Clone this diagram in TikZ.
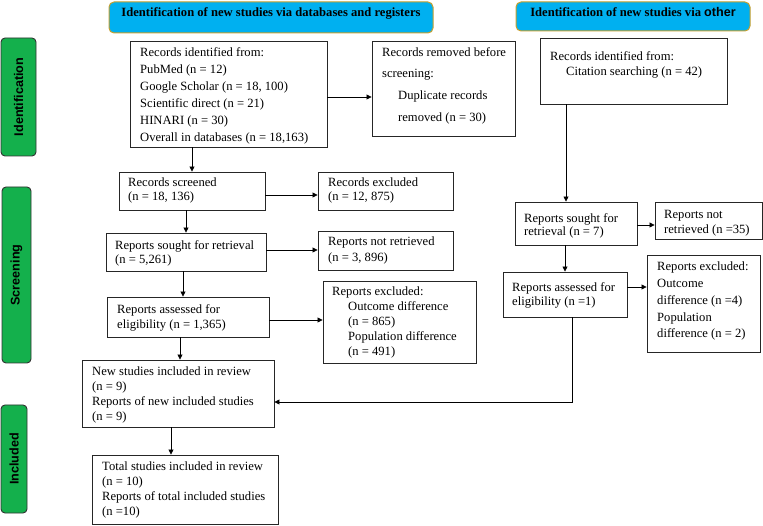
\documentclass[tikz,border=0pt]{standalone}
\usepackage{fontspec}
\setmainfont{Liberation Serif}
\newfontfamily\arialfam{Liberation Sans}
\usetikzlibrary{arrows.meta,fit,calc}
\definecolor{hdrfill}{HTML}{00B0F0}
\definecolor{hdrline}{HTML}{C9A02C}
\definecolor{sidefill}{HTML}{14B04C}
\begin{document}
\begin{tikzpicture}[x=1pt,y=-1pt,
  box/.style={draw=black!85, line width=0.9pt, inner sep=0pt},
  txt/.style={anchor=north west, inner sep=0pt, align=left},
  hdr/.style={draw=hdrline, fill=hdrfill, rounded corners=5pt, line width=1pt, inner sep=0pt,
    font=\bfseries\fontsize{12.6}{15}\selectfont},
  side/.style={draw=black!80, fill=sidefill, rounded corners=4pt, line width=0.9pt, inner sep=0pt},
  sidetxt/.style={rotate=90, inner sep=0pt, font=\arialfam\bfseries\fontsize{12.6}{15}\selectfont},
  arr/.style={-{Triangle[length=5pt,width=5pt]}, line width=0.8pt},
  ln/.style={line width=0.8pt}]
\useasboundingbox (0,0) rectangle (763,526);

% headers
\node[hdr, fit={(109,2) (433,33)}] (h1) {Identification of new studies via databases and registers};
\node[hdr, fit={(516,2) (750,31)}] (h2) {Identification of new studies via {\arialfam\bfseries other}};

% side labels
\node[side, fit={(1,38) (36,156)}] (sid) {};
\node[sidetxt] at (sid.center) {Identification};
\node[side, fit={(2,187) (31,363)}] (sscr) {};
\node[sidetxt] at (sscr.center) {Screening};
\node[side, fit={(1,405) (27,513)}] (sinc) {};
\node[sidetxt] at (sinc.center) {Included};

% left column boxes
\node[box, fit={(130,41) (327,147)}] (A) {};
\node[txt, font=\fontsize{12.6}{17}\selectfont] at (140,47) {Records identified from:\\PubMed (n = 12)\\Google Scholar (n = 18, 100)\\Scientific direct (n = 21)\\HINARI (n = 30)\\Overall in databases (n = 18,163)};

\node[box, fit={(372,41) (515,136)}] (B) {};
\node[txt, font=\fontsize{12.6}{21.8}\selectfont] at (382,47) {Records removed before\\screening:\\\hspace*{16pt}Duplicate records\\\hspace*{16pt}removed (n = 30)};

\node[box, fit={(119,172) (265,210)}] (D) {};
\node[txt, font=\fontsize{12.6}{14}\selectfont] at (128,178) {Records screened\\(n = 18, 136)};

\node[box, fit={(318,172) (453,210)}] (E) {};
\node[txt, font=\fontsize{12.6}{14}\selectfont] at (328,178) {Records excluded\\(n = 12, 875)};

\node[box, fit={(106,233) (266,271)}] (F) {};
\node[txt, font=\fontsize{12.6}{14}\selectfont] at (115,240) {Reports sought for retrieval\\(n = 5,261)};

\node[box, fit={(318,231) (453,270)}] (G) {};
\node[txt, font=\fontsize{12.6}{16}\selectfont] at (328,237) {Reports not retrieved\\(n = 3, 896)};

\node[box, fit={(107,297) (269,337)}] (H) {};
\node[txt, font=\fontsize{12.6}{15}\selectfont] at (117,304) {Reports assessed for\\eligibility (n = 1,365)};

\node[box, fit={(323,281) (476,363)}] (I) {};
\node[txt, font=\fontsize{12.6}{15}\selectfont] at (332,287) {Reports excluded:\\\hspace*{16pt}Outcome difference\\\hspace*{16pt}(n = 865)\\\hspace*{16pt}Population difference\\\hspace*{16pt}(n = 491)};

\node[box, fit={(82,360) (274,427)}] (J) {};
\node[txt, font=\fontsize{12.6}{15}\selectfont] at (92,367) {New studies included in review\\(n = 9)\\Reports of new included studies\\(n = 9)};

\node[box, fit={(92,455) (278,524)}] (K) {};
\node[txt, font=\fontsize{12.6}{15}\selectfont] at (102,462) {Total studies included in review\\(n = 10)\\Reports of total included studies\\(n =10)};

% right column boxes
\node[box, fit={(540,38) (727,104)}] (C) {};
\node[txt, font=\fontsize{12.6}{15}\selectfont] at (550,51) {Records identified from:\\\hspace*{16pt}Citation searching (n = 42)};

\node[box, fit={(515,202) (637,245)}] (S) {};
\node[txt, font=\fontsize{12.6}{13}\selectfont] at (524,213) {Reports sought for\\retrieval (n = 7)};

\node[box, fit={(655,202) (762,239)}] (N) {};
\node[txt, font=\fontsize{12.6}{15}\selectfont] at (664,210) {Reports not\\retrieved (n =35)};

\node[box, fit={(503,272) (627,317)}] (R) {};
\node[txt, font=\fontsize{12.6}{14}\selectfont] at (512,282) {Reports assessed for\\eligibility (n =1)};

\node[box, fit={(647,255) (760,352)}] (X) {};
\node[txt, font=\fontsize{12.6}{16.7}\selectfont] at (657,262) {Reports excluded:\\Outcome\\difference (n =4)\\Population\\difference (n = 2)};

% connectors
\draw[arr] (A.south -| D.north) -- (D.north);
\draw[arr] ([yshift=-3pt]A.east) -- ([yshift=-3pt]A.east -| B.west);
\draw[arr] ([yshift=-4pt]D.east) -- ([yshift=-4pt]D.east -| E.west);
\draw[arr] (D.south -| F.north) -- (F.north);
\draw[arr] ([yshift=2pt]F.east) -- ([yshift=2pt]F.east -| G.west);
\draw[arr] ([xshift=-3pt]F.south) -- ([xshift=-3pt]F.south |- H.north);
\draw[arr] ([yshift=-3pt]H.east) -- ([yshift=-3pt]H.east -| I.west);
\draw[arr] ([xshift=2pt]H.south -| J.north) -- ([xshift=2pt]J.north);
\draw[arr] ([xshift=-7pt]J.south) -- ([xshift=-7pt]J.south |- K.north);

\draw[arr] ([xshift=-10pt]S.north |- C.south) -- ([xshift=-10pt]S.north);
\draw[arr] ([yshift=-1.5pt]S.east) -- ([yshift=-1.5pt]S.east -| N.west);
\draw[arr] (S.south -| R.north) -- (R.north);
\draw[arr] ([yshift=7.5pt]R.east) -- ([yshift=7.5pt]R.east -| X.west);
\draw[arr] ([xshift=7pt]R.south) |- ([yshift=-8.5pt]J.east);
\end{tikzpicture}
\end{document}
